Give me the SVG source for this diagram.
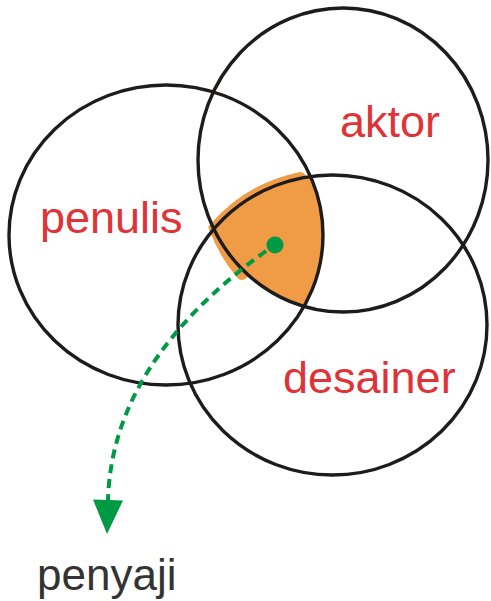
<svg xmlns="http://www.w3.org/2000/svg" width="491" height="601" viewBox="0 0 491 601">
  <style>
    .ring { fill: none; stroke: #1e1b1b; stroke-width: 3.4; }
    .lbl { font-family: "Liberation Sans", Arial, sans-serif; font-size: 45px; fill: #e03338; }
    .dark { fill: #333333; font-size: 44px; }
    .orange { fill: #f09b46; }
    .flow { fill: none; stroke: #009a44; stroke-width: 4; stroke-dasharray: 9 6; }
  </style>
  <defs>
    <marker id="arrow" markerUnits="userSpaceOnUse" markerWidth="40" markerHeight="40" refX="0" refY="0" viewBox="-2 -18 40 36" orient="auto">
      <path d="M0,-15 L34,0 L0,15 Z" fill="#009a44"/>
    </marker>
  </defs>
  <rect width="491" height="601" fill="#ffffff"/>

  <g id="intersection">
    <path d="M300,178 A154.5,150 0 0 0 215,228 A145,152 0 0 0 242,274" fill="none" stroke="#f09b46" stroke-width="12" stroke-linecap="round"/>
    <path class="orange" d="M310.5,177 A154.5,150 0 0 0 215,228 A145,152 0 0 0 305,306 A157,150 0 0 0 310.5,177 Z"/>
  </g>

  <g id="penulis">
    <ellipse class="ring" cx="166" cy="235" rx="157" ry="150"/>
    <text class="lbl" x="40" y="233">penulis</text>
  </g>
  <g id="aktor">
    <ellipse class="ring" cx="343" cy="160" rx="145" ry="152"/>
    <text class="lbl" x="340" y="137">aktor</text>
  </g>
  <g id="desainer">
    <ellipse class="ring" cx="332.5" cy="325" rx="154.5" ry="150"/>
    <text class="lbl" x="283" y="393">desainer</text>
  </g>

  <g id="connectors">
    <path class="flow" d="M266,251 Q112,362 108,500" marker-end="url(#arrow)"/>
  </g>

  <g id="dot">
    <circle cx="275" cy="245" r="8.5" fill="#009a44"/>
  </g>

  <g id="penyaji">
    <text class="lbl dark" x="37" y="590">penyaji</text>
  </g>
</svg>
